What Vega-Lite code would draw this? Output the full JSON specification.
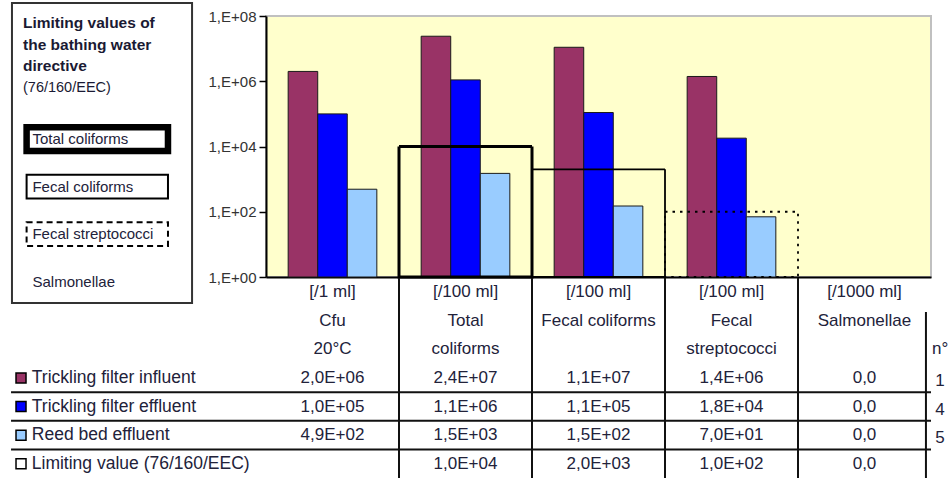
{
  "$schema": "https://vega.github.io/schema/vega-lite/v6.json",
  "width": 665,
  "height": 261,
  "autosize": "none",
  "padding": {"left": 266, "top": 16, "right": 18, "bottom": 202},
  "background": "white",
  "config": {
    "font": "Liberation Sans",
    "view": {"fill": "#FFFFCC", "stroke": "#C0C0C0", "strokeWidth": 2},
    "text": {"font": "Liberation Sans", "color": "#22223a"}
  },
  "datasets": {
    "measurements": [
      {"column": "Cfu", "series": "Trickling filter influent", "value": 2000000, "label": "2,0E+06"},
      {"column": "Total coliforms", "series": "Trickling filter influent", "value": 24000000, "label": "2,4E+07"},
      {"column": "Fecal coliforms", "series": "Trickling filter influent", "value": 11000000, "label": "1,1E+07"},
      {"column": "Fecal streptococci", "series": "Trickling filter influent", "value": 1400000, "label": "1,4E+06"},
      {"column": "Salmonellae", "series": "Trickling filter influent", "value": 0, "label": "0,0"},
      {"column": "Cfu", "series": "Trickling filter effluent", "value": 100000, "label": "1,0E+05"},
      {"column": "Total coliforms", "series": "Trickling filter effluent", "value": 1100000, "label": "1,1E+06"},
      {"column": "Fecal coliforms", "series": "Trickling filter effluent", "value": 110000, "label": "1,1E+05"},
      {"column": "Fecal streptococci", "series": "Trickling filter effluent", "value": 18000, "label": "1,8E+04"},
      {"column": "Salmonellae", "series": "Trickling filter effluent", "value": 0, "label": "0,0"},
      {"column": "Cfu", "series": "Reed bed effluent", "value": 490, "label": "4,9E+02"},
      {"column": "Total coliforms", "series": "Reed bed effluent", "value": 1500, "label": "1,5E+03"},
      {"column": "Fecal coliforms", "series": "Reed bed effluent", "value": 150, "label": "1,5E+02"},
      {"column": "Fecal streptococci", "series": "Reed bed effluent", "value": 70, "label": "7,0E+01"},
      {"column": "Salmonellae", "series": "Reed bed effluent", "value": 0, "label": "0,0"},
      {"column": "Total coliforms", "series": "Limiting value (76/160/EEC)", "value": 10000, "label": "1,0E+04"},
      {"column": "Fecal coliforms", "series": "Limiting value (76/160/EEC)", "value": 2000, "label": "2,0E+03"},
      {"column": "Fecal streptococci", "series": "Limiting value (76/160/EEC)", "value": 100, "label": "1,0E+02"},
      {"column": "Salmonellae", "series": "Limiting value (76/160/EEC)", "value": 0, "label": "0,0"}
    ],
    "columns": [
      {"column": "Cfu", "unit": "[/1 ml]", "name1": "Cfu", "name2": "20°C"},
      {"column": "Total coliforms", "unit": "[/100 ml]", "name1": "Total", "name2": "coliforms"},
      {"column": "Fecal coliforms", "unit": "[/100 ml]", "name1": "Fecal coliforms", "name2": ""},
      {"column": "Fecal streptococci", "unit": "[/100 ml]", "name1": "Fecal", "name2": "streptococci"},
      {"column": "Salmonellae", "unit": "[/1000 ml]", "name1": "Salmonellae", "name2": ""}
    ],
    "series": [
      {"series": "Trickling filter influent", "n": "1"},
      {"series": "Trickling filter effluent", "n": "4"},
      {"series": "Reed bed effluent", "n": "5"},
      {"series": "Limiting value (76/160/EEC)", "n": ""}
    ],
    "titleLines": [
      {"line": "Limiting values of"},
      {"line": "the bathing water"},
      {"line": "directive"},
      {"line": "(76/160/EEC)"}
    ]
  },
  "resolve": {"scale": {"x": "independent", "y": "independent"}},
  "layer": [
    {
      "data": {"name": "measurements"},
      "transform": [{"filter": "datum.series !== 'Limiting value (76/160/EEC)' && datum.value > 0"}],
      "mark": {"type": "bar", "stroke": "#1a1a1a", "strokeWidth": 1},
      "encoding": {
        "x": {"field": "column", "type": "nominal", "sort": null,
          "scale": {"type": "band", "domain": ["Cfu", "Total coliforms", "Fecal coliforms", "Fecal streptococci", "Salmonellae"], "paddingInner": 0, "paddingOuter": 0},
          "axis": {"labels": false, "ticks": false, "title": null, "domainColor": "#000", "domainWidth": 2}},
        "xOffset": {"field": "series", "type": "nominal",
          "scale": {"domain": ["Trickling filter influent", "Trickling filter effluent", "Reed bed effluent"], "paddingInner": 0, "paddingOuter": 0.75}},
        "y": {"field": "value", "type": "quantitative",
          "scale": {"type": "log", "domain": [1, 100000000], "nice": false},
          "axis": {"values": [1, 100, 10000, 1000000, 100000000], "title": null, "grid": false,
            "labelExpr": "'1,E+' + (round(log(datum.value)/LN10) < 10 ? '0' : '') + round(log(datum.value)/LN10)",
            "domainColor": "#000", "domainWidth": 2, "tickColor": "#000", "tickWidth": 1.5, "tickSize": 7,
            "labelPadding": 3, "labelFontSize": 15, "labelColor": "#333", "labelFont": "Liberation Sans"}},
        "y2": {"datum": 1},
        "color": {"field": "series", "type": "nominal",
          "scale": {"domain": ["Trickling filter influent", "Trickling filter effluent", "Reed bed effluent", "Limiting value (76/160/EEC)"], "range": ["#993366", "#0000FF", "#99CCFF", "#FFFFFF"]},
          "legend": null}
      }
    },
    {
      "data": {"name": "measurements"},
      "transform": [{"filter": "datum.series === 'Limiting value (76/160/EEC)' && datum.value > 0"}],
      "mark": {"type": "bar", "fill": "transparent", "stroke": "#000"},
      "encoding": {
        "x": {"field": "column", "type": "nominal", "sort": null,
          "scale": {"type": "band", "domain": ["Cfu", "Total coliforms", "Fecal coliforms", "Fecal streptococci", "Salmonellae"], "paddingInner": 0, "paddingOuter": 0},
          "axis": null},
        "y": {"field": "value", "type": "quantitative", "scale": {"type": "log", "domain": [1, 100000000], "nice": false}, "axis": null},
        "y2": {"datum": 1},
        "strokeWidth": {"condition": {"test": "datum.column === 'Total coliforms'", "value": 3}, "value": 1.8},
        "strokeDash": {"condition": {"test": "datum.column === 'Fecal streptococci'", "value": [2.5, 5]}, "value": [1, 0]}
      }
    },
    {
      "data": {"name": "columns"},
      "transform": [{"filter": "datum.column !== 'Cfu'"}],
      "mark": {"type": "rule", "color": "#111", "strokeWidth": 2},
      "encoding": {
        "x": {"field": "column", "type": "nominal", "sort": null, "bandPosition": 0,
          "scale": {"type": "band", "domain": ["Cfu", "Total coliforms", "Fecal coliforms", "Fecal streptococci", "Salmonellae"], "paddingInner": 0, "paddingOuter": 0},
          "axis": null},
        "y": {"datum": 0, "type": "quantitative", "scale": {"type": "linear", "domain": [0, 7], "range": [262, 462], "zero": false, "nice": false}, "axis": null},
        "y2": {"datum": 7}
      }
    },
    {
      "data": {"name": "series"},
      "transform": [{"filter": "datum.series !== 'Trickling filter influent'"}],
      "mark": {"type": "rule", "color": "#111", "strokeWidth": 2},
      "encoding": {
        "y": {"field": "series", "type": "nominal", "sort": null, "bandPosition": 0,
          "scale": {"type": "band", "domain": ["unit", "name1", "name2", "Trickling filter influent", "Trickling filter effluent", "Reed bed effluent", "Limiting value (76/160/EEC)"], "range": [262, 462], "paddingInner": 0, "paddingOuter": 0},
          "axis": null},
        "x": {"datum": -1.917, "type": "quantitative", "scale": {"type": "linear", "domain": [0, 5], "zero": false, "nice": false}, "axis": null},
        "x2": {"datum": 5.0}
      }
    },
    {
      "data": {"values": [{"header": "n°"}]},
      "mark": {"type": "rule", "color": "#111", "strokeWidth": 2},
      "encoding": {
        "x": {"datum": 4.962, "type": "quantitative", "scale": {"type": "linear", "domain": [0, 5], "zero": false, "nice": false}, "axis": null},
        "y": {"datum": 1.19, "type": "quantitative", "scale": {"type": "linear", "domain": [0, 7], "range": [262, 462], "zero": false, "nice": false}, "axis": null},
        "y2": {"datum": 7}
      }
    },
    {
      "data": {"values": [{"header": "n°"}]},
      "mark": {"type": "text", "align": "left", "baseline": "middle", "fontSize": 17},
      "encoding": {
        "x": {"datum": 5.008, "type": "quantitative", "scale": {"type": "linear", "domain": [0, 5], "zero": false, "nice": false}, "axis": null},
        "y": {"datum": "name2", "type": "nominal",
          "scale": {"type": "band", "domain": ["unit", "name1", "name2", "Trickling filter influent", "Trickling filter effluent", "Reed bed effluent", "Limiting value (76/160/EEC)"], "range": [262, 462], "paddingInner": 0, "paddingOuter": 0},
          "axis": null},
        "text": {"field": "header"}
      }
    },
    {
      "data": {"name": "columns"},
      "transform": [{"fold": ["unit", "name1", "name2"], "as": ["slot", "text"]}],
      "mark": {"type": "text", "align": "center", "baseline": "middle", "fontSize": 17},
      "encoding": {
        "x": {"field": "column", "type": "nominal", "sort": null,
          "scale": {"type": "band", "domain": ["Cfu", "Total coliforms", "Fecal coliforms", "Fecal streptococci", "Salmonellae"], "paddingInner": 0, "paddingOuter": 0},
          "axis": null},
        "y": {"field": "slot", "type": "nominal", "sort": null,
          "scale": {"type": "band", "domain": ["unit", "name1", "name2", "Trickling filter influent", "Trickling filter effluent", "Reed bed effluent", "Limiting value (76/160/EEC)"], "range": [262, 462], "paddingInner": 0, "paddingOuter": 0},
          "axis": null},
        "text": {"field": "text"}
      }
    },
    {
      "data": {"name": "measurements"},
      "mark": {"type": "text", "align": "center", "baseline": "middle", "fontSize": 17},
      "encoding": {
        "x": {"field": "column", "type": "nominal", "sort": null,
          "scale": {"type": "band", "domain": ["Cfu", "Total coliforms", "Fecal coliforms", "Fecal streptococci", "Salmonellae"], "paddingInner": 0, "paddingOuter": 0},
          "axis": null},
        "y": {"field": "series", "type": "nominal", "sort": null,
          "scale": {"type": "band", "domain": ["unit", "name1", "name2", "Trickling filter influent", "Trickling filter effluent", "Reed bed effluent", "Limiting value (76/160/EEC)"], "range": [262, 462], "paddingInner": 0, "paddingOuter": 0},
          "axis": null},
        "text": {"field": "label"}
      }
    },
    {
      "data": {"name": "series"},
      "mark": {"type": "point", "shape": "square", "filled": true, "size": 100, "stroke": "#000", "strokeWidth": 1.5, "opacity": 1},
      "encoding": {
        "x": {"datum": -1.842, "type": "quantitative", "scale": {"type": "linear", "domain": [0, 5], "zero": false, "nice": false}, "axis": null},
        "y": {"field": "series", "type": "nominal", "sort": null,
          "scale": {"type": "band", "domain": ["unit", "name1", "name2", "Trickling filter influent", "Trickling filter effluent", "Reed bed effluent", "Limiting value (76/160/EEC)"], "range": [262, 462], "paddingInner": 0, "paddingOuter": 0},
          "axis": null},
        "color": {"field": "series", "type": "nominal",
          "scale": {"domain": ["Trickling filter influent", "Trickling filter effluent", "Reed bed effluent", "Limiting value (76/160/EEC)"], "range": ["#993366", "#0000FF", "#99CCFF", "#FFFFFF"]},
          "legend": null}
      }
    },
    {
      "data": {"name": "series"},
      "mark": {"type": "text", "align": "left", "baseline": "middle", "fontSize": 17.5},
      "encoding": {
        "x": {"datum": -1.761, "type": "quantitative", "scale": {"type": "linear", "domain": [0, 5], "zero": false, "nice": false}, "axis": null},
        "y": {"field": "series", "type": "nominal", "sort": null,
          "scale": {"type": "band", "domain": ["unit", "name1", "name2", "Trickling filter influent", "Trickling filter effluent", "Reed bed effluent", "Limiting value (76/160/EEC)"], "range": [262, 462], "paddingInner": 0, "paddingOuter": 0},
          "axis": null},
        "text": {"field": "series"}
      }
    },
    {
      "data": {"name": "series"},
      "mark": {"type": "text", "align": "center", "baseline": "middle", "fontSize": 17, "dy": 3},
      "encoding": {
        "x": {"datum": 5.068, "type": "quantitative", "scale": {"type": "linear", "domain": [0, 5], "zero": false, "nice": false}, "axis": null},
        "y": {"field": "series", "type": "nominal", "sort": null,
          "scale": {"type": "band", "domain": ["unit", "name1", "name2", "Trickling filter influent", "Trickling filter effluent", "Reed bed effluent", "Limiting value (76/160/EEC)"], "range": [262, 462], "paddingInner": 0, "paddingOuter": 0},
          "axis": null},
        "text": {"field": "n"}
      }
    },
    {
      "data": {"values": [{"panel": "Limiting values of the bathing water directive (76/160/EEC)"}]},
      "mark": {"type": "rect", "fill": "white", "stroke": "#333", "strokeWidth": 2},
      "encoding": {
        "x": {"datum": -1.910, "type": "quantitative", "scale": {"type": "linear", "domain": [0, 5], "zero": false, "nice": false}, "axis": null},
        "x2": {"datum": -0.556},
        "y": {"datum": 0, "type": "quantitative", "scale": {"type": "linear", "domain": [0, 1], "range": [-13, 287], "zero": false, "nice": false}, "axis": null},
        "y2": {"datum": 1}
      }
    },
    {
      "data": {"name": "titleLines"},
      "transform": [{"filter": "datum.line !== '(76/160/EEC)'"}],
      "mark": {"type": "text", "align": "left", "baseline": "middle", "fontSize": 15.5, "fontWeight": "bold", "color": "#1a1a33"},
      "encoding": {
        "x": {"datum": -1.827, "type": "quantitative", "scale": {"type": "linear", "domain": [0, 5], "zero": false, "nice": false}, "axis": null},
        "y": {"field": "line", "type": "nominal", "sort": null,
          "scale": {"type": "point", "domain": ["Limiting values of", "the bathing water", "directive", "(76/160/EEC)"], "range": [7, 72], "padding": 0},
          "axis": null},
        "text": {"field": "line"}
      }
    },
    {
      "data": {"name": "titleLines"},
      "transform": [{"filter": "datum.line === '(76/160/EEC)'"}],
      "mark": {"type": "text", "align": "left", "baseline": "middle", "fontSize": 14.5, "color": "#1a1a33"},
      "encoding": {
        "x": {"datum": -1.827, "type": "quantitative", "scale": {"type": "linear", "domain": [0, 5], "zero": false, "nice": false}, "axis": null},
        "y": {"field": "line", "type": "nominal", "sort": null,
          "scale": {"type": "point", "domain": ["Limiting values of", "the bathing water", "directive", "(76/160/EEC)"], "range": [7, 72], "padding": 0},
          "axis": null},
        "text": {"field": "line"}
      }
    },
    {
      "data": {"name": "columns"},
      "transform": [{"filter": "datum.column === 'Total coliforms' || datum.column === 'Fecal coliforms'"}],
      "mark": {"type": "rect", "fill": "white", "stroke": "#000"},
      "encoding": {
        "x": {"datum": -1.800, "type": "quantitative", "scale": {"type": "linear", "domain": [0, 5], "zero": false, "nice": false}, "axis": null},
        "x2": {"datum": -0.737},
        "y": {"field": "column", "type": "nominal", "sort": null,
          "scale": {"type": "band", "domain": ["Total coliforms", "Fecal coliforms", "Fecal streptococci", "Salmonellae"], "range": [99.25, 289.25], "paddingInner": 0.5, "paddingOuter": 0.25},
          "axis": null},
        "strokeWidth": {"condition": {"test": "datum.column === 'Total coliforms'", "value": 6.5}, "value": 2}
      }
    },
    {
      "data": {"name": "columns"},
      "transform": [{"filter": "datum.column === 'Fecal streptococci'"}],
      "mark": {"type": "rect", "fill": "white", "stroke": "#000", "strokeWidth": 2, "strokeDash": [6, 4]},
      "encoding": {
        "x": {"datum": -1.800, "type": "quantitative", "scale": {"type": "linear", "domain": [0, 5], "zero": false, "nice": false}, "axis": null},
        "x2": {"datum": -0.737},
        "y": {"field": "column", "type": "nominal", "sort": null,
          "scale": {"type": "band", "domain": ["Total coliforms", "Fecal coliforms", "Fecal streptococci", "Salmonellae"], "range": [99.25, 289.25], "paddingInner": 0.5, "paddingOuter": 0.25},
          "axis": null}
      }
    },
    {
      "data": {"name": "columns"},
      "transform": [{"filter": "datum.column !== 'Cfu'"}],
      "mark": {"type": "text", "align": "left", "baseline": "middle", "fontSize": 15},
      "encoding": {
        "x": {"datum": -1.756, "type": "quantitative", "scale": {"type": "linear", "domain": [0, 5], "zero": false, "nice": false}, "axis": null},
        "y": {"field": "column", "type": "nominal", "sort": null,
          "scale": {"type": "band", "domain": ["Total coliforms", "Fecal coliforms", "Fecal streptococci", "Salmonellae"], "range": [99.25, 289.25], "paddingInner": 0.5, "paddingOuter": 0.25},
          "axis": null},
        "text": {"field": "column"}
      }
    }
  ]
}
